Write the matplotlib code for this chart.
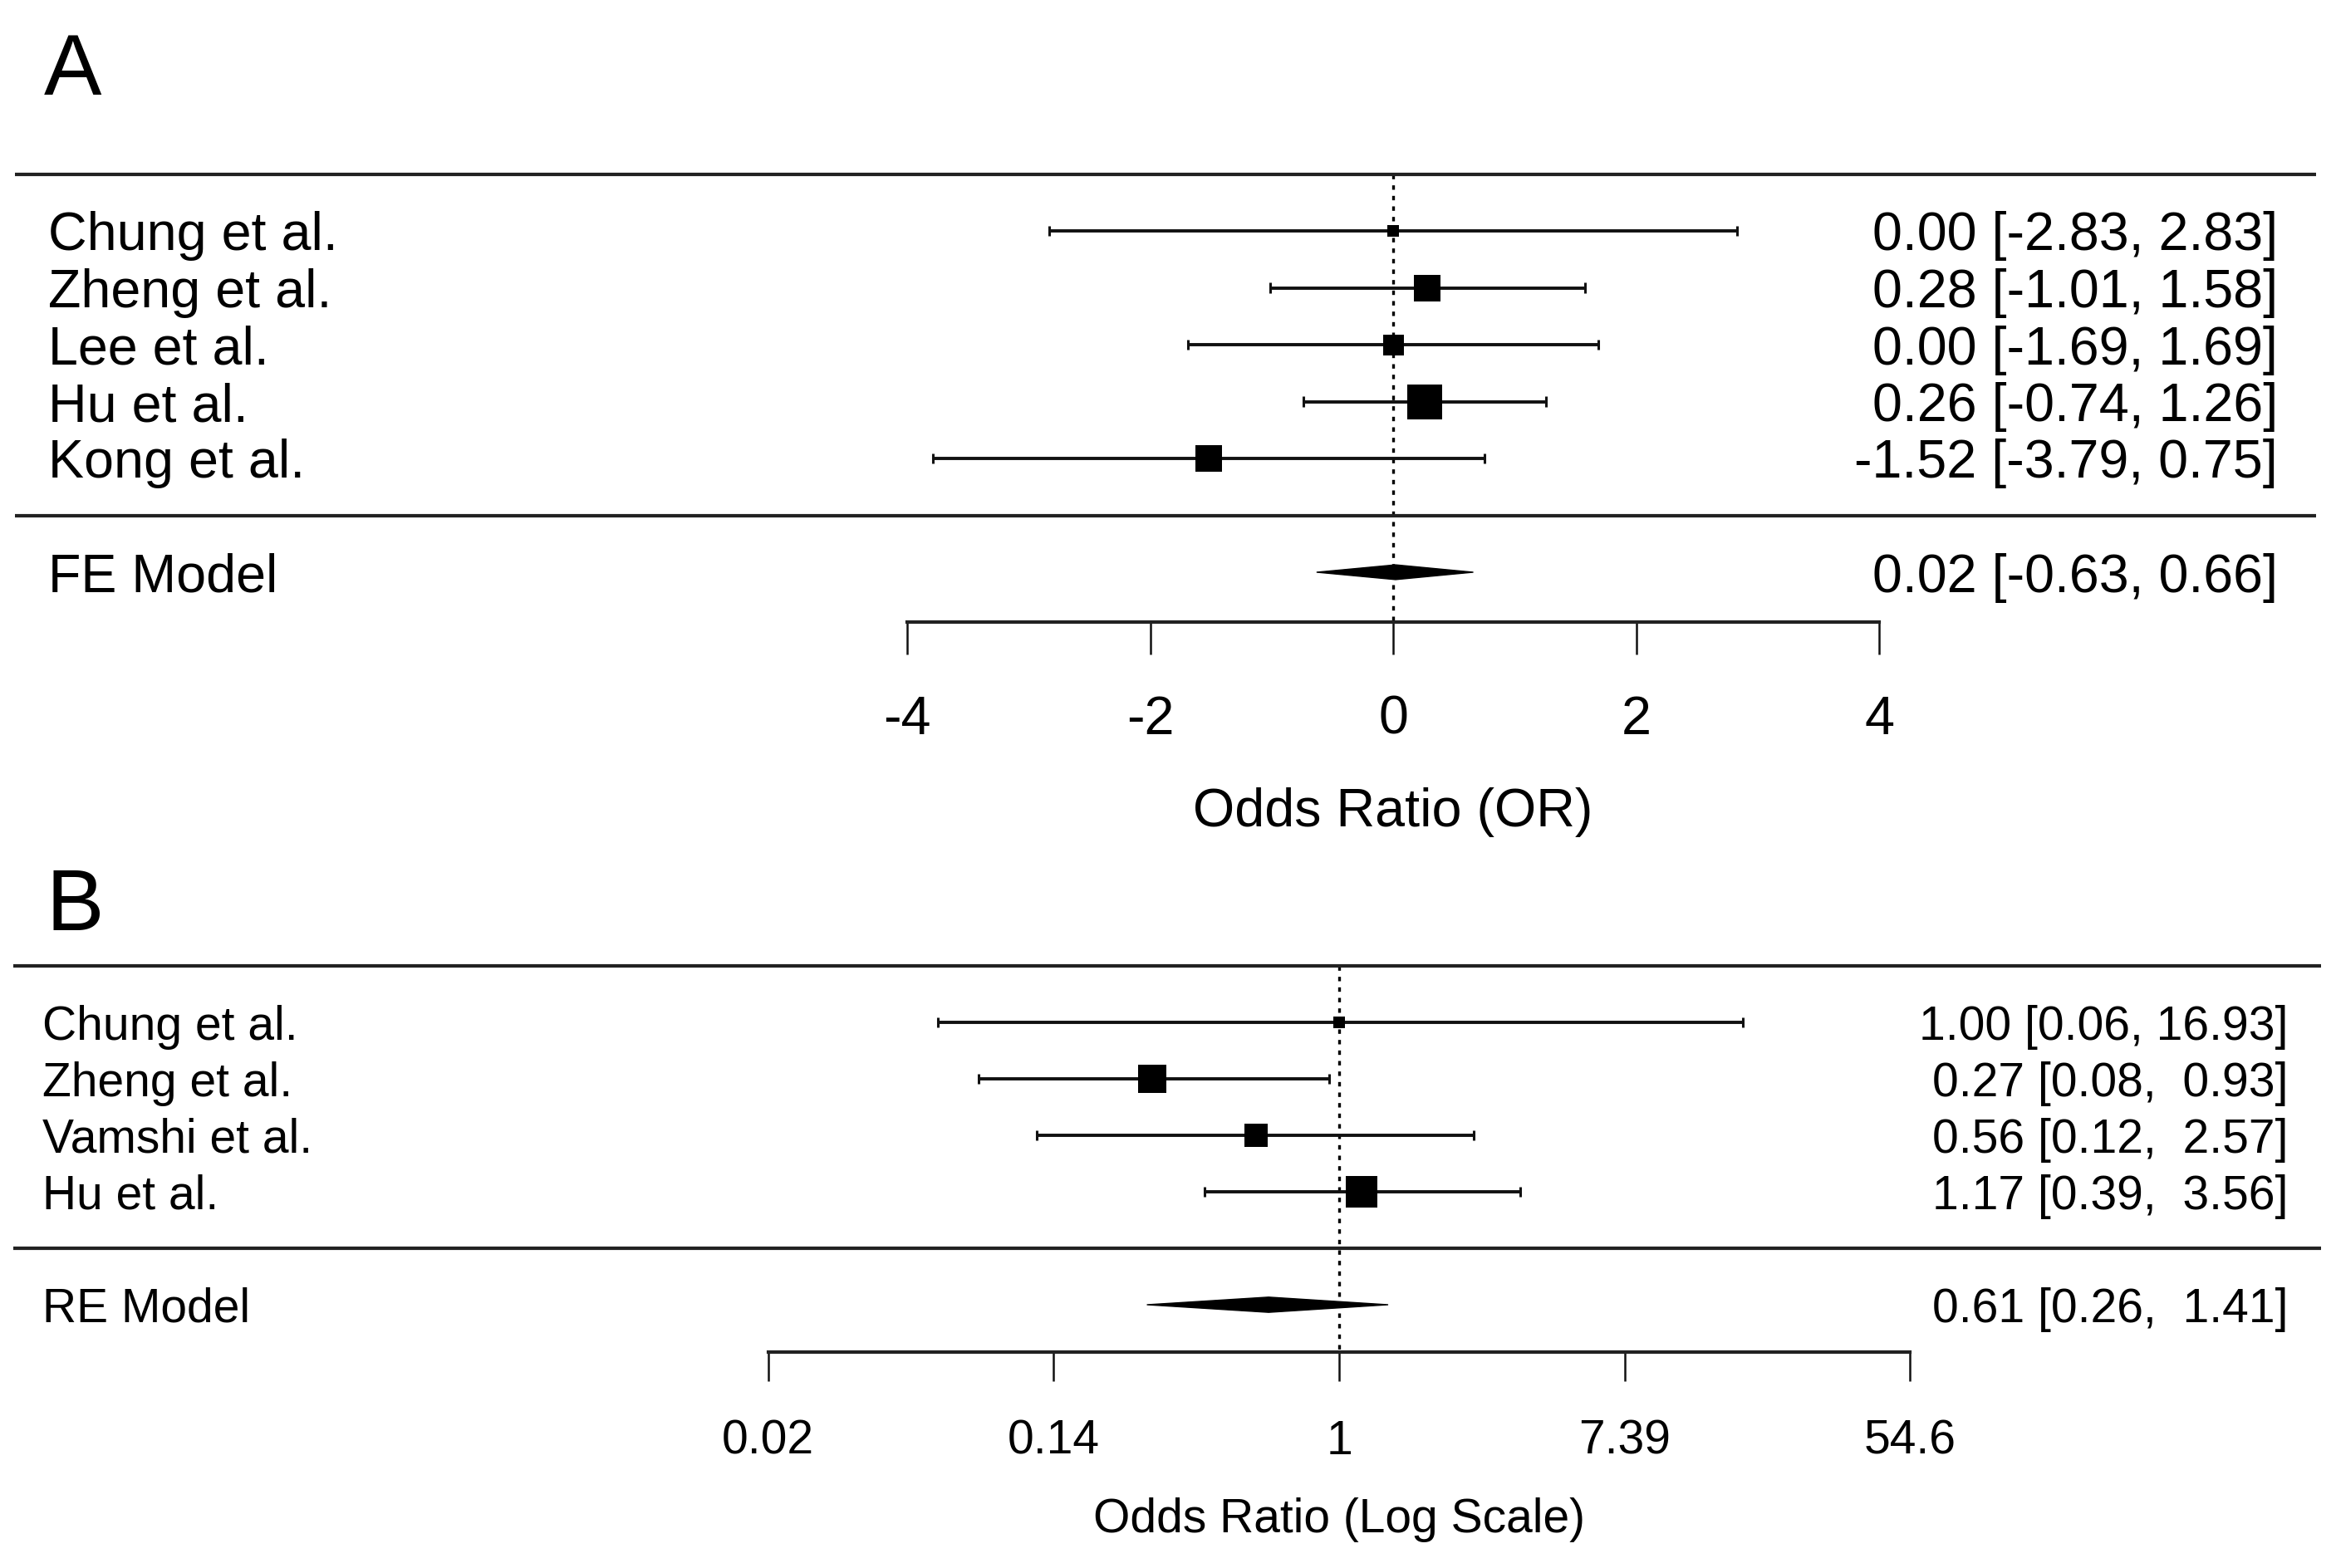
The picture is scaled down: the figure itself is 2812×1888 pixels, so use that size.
import numpy as np
import matplotlib
matplotlib.use("Agg")
import matplotlib.pyplot as plt
from matplotlib.transforms import blended_transform_factory

plt.rcParams['font.family'] = ['Liberation Sans', 'DejaVu Sans']
plt.rcParams['axes.unicode_minus'] = False

# ---------------- Panel A data (OR scale as plotted) ----------------
studies_A = ["Chung et al.", "Zheng et al.", "Lee et al.", "Hu et al.", "Kong et al."]
est_A = [0.00, 0.28, 0.00, 0.26, -1.52]
lo_A = [-2.83, -1.01, -1.69, -0.74, -3.79]
hi_A = [2.83, 1.58, 1.69, 1.26, 0.75]
size_A = [10, 23, 18, 30, 22.5]          # marker sizes (study weights)
model_A = "FE Model"
model_est_A, model_lo_A, model_hi_A = 0.02, -0.63, 0.66
ticks_A = [-4, -2, 0, 2, 4]
ticklabels_A = ["-4", "-2", "0", "2", "4"]
xlabel_A = "Odds Ratio (OR)"

# ---------------- Panel B data (odds ratios) ----------------
studies_B = ["Chung et al.", "Zheng et al.", "Vamshi et al.", "Hu et al."]
or_B = [1.00, 0.27, 0.56, 1.17]
lo_B = [0.06, 0.08, 0.12, 0.39]
hi_B = [16.93, 0.93, 2.57, 3.56]
size_B = [10, 24.5, 20, 28]
model_B = "RE Model"
model_est_B, model_lo_B, model_hi_B = 0.61, 0.26, 1.41
ticks_B = [-4, -2, 0, 2, 4]               # log scale positions
ticklabels_B = ["0.02", "0.14", "1", "7.39", "54.6"]
xlabel_B = "Odds Ratio (Log Scale)"

W, H = 2812, 1888
fig = plt.figure(figsize=(W / 100, H / 100), dpi=100)


def forest(ax, names, est, lo, hi, sizes, mname, mest, mlo, mhi, ann,
           mann, ticks, tlabels, xlabel, fs, axis_y, text_x, ann_x,
           line_x0, line_x1, ticklen, tickpad, xlabel_y, dhalf):
    k = len(names)
    rows = np.arange(k, 0, -1)
    tr = blended_transform_factory(ax.transAxes, ax.transData)
    # horizontal rules
    for yy in (k + 1, 0):
        ax.plot([line_x0, line_x1], [yy, yy], transform=tr, color='#222222',
                lw=3.0, solid_capstyle='butt', clip_on=False)
    # reference line
    ax.plot([0, 0], [k + 1, axis_y], color='black', lw=2.4,
            linestyle=(0, (1.6, 2.2)), zorder=1)
    # CIs
    ax.hlines(rows, lo, hi, color='#111111', lw=2.8, zorder=2)
    cap = 0.09
    ax.vlines(lo, rows - cap, rows + cap, color='#111111', lw=2.2, zorder=2)
    ax.vlines(hi, rows - cap, rows + cap, color='#111111', lw=2.2, zorder=2)
    for r, e, s in zip(rows, est, sizes):
        ax.plot([e], [r], marker='s', ms=s, color='black', mec='black',
                mew=0, linestyle='none', zorder=3)
    # summary diamond
    ax.fill([mlo, mest, mhi, mest], [-1, -1 + dhalf, -1, -1 - dhalf],
            color='black', lw=1.0, zorder=3)
    # texts
    for r, n, a in zip(rows, names, ann):
        ax.text(text_x, r, n, transform=tr, fontsize=fs, ha='left',
                va='center_baseline')
        ax.text(ann_x, r, a, transform=tr, fontsize=fs, ha='right',
                va='center_baseline')
    ax.text(text_x, -1, mname, transform=tr, fontsize=fs, ha='left',
            va='center_baseline')
    ax.text(ann_x, -1, mann, transform=tr, fontsize=fs, ha='right',
            va='center_baseline')
    # axis
    for sp in ('top', 'right', 'left'):
        ax.spines[sp].set_visible(False)
    ax.spines['bottom'].set_position(('data', axis_y))
    ax.spines['bottom'].set_bounds(ticks[0], ticks[-1])
    ax.spines['bottom'].set_linewidth(3.0)
    ax.spines['bottom'].set_color('#222222')
    ax.set_xticks(ticks)
    ax.set_xticklabels(tlabels)
    ax.tick_params(axis='x', direction='out', length=ticklen, width=1.8,
                   pad=tickpad, labelsize=fs, color='#111111')
    ax.set_yticks([])
    ax.text(0, xlabel_y, xlabel, fontsize=fs, ha='center', va='center')
    ax.patch.set_visible(False)


# ---- Panel A ----
axA = fig.add_axes([0, 1 - 1030 / H, 1, 1030 / H])
ppuA = 146.25
x0A = 1677
axA.set_xlim(-x0A / ppuA, (W - x0A) / ppuA)
axA.set_ylim(5 - (1030 - 278) / 68.5, 5 + 278 / 68.5)
annA = [f"{e:.2f} [{l:.2f}, {h:.2f}]" for e, l, h in zip(est_A, lo_A, hi_A)]
mannA = f"{model_est_A:.2f} [{model_lo_A:.2f}, {model_hi_A:.2f}]"
forest(axA, studies_A, est_A, lo_A, hi_A, size_A, model_A, model_est_A,
       model_lo_A, model_hi_A, annA, mannA, ticks_A, ticklabels_A, xlabel_A,
       fs=46.5, axis_y=-1.88, text_x=58 / W, ann_x=2742 / W,
       line_x0=18 / W, line_x1=2788 / W, ticklen=28, tickpad=35,
       xlabel_y=5 - (978 - 278) / 68.5, dhalf=0.13)

# ---- Panel B ----
axB = fig.add_axes([0, 0, 1, 858 / H])
ppuB = 171.8
x0B = 1612
axB.set_xlim(-x0B / ppuB, (W - x0B) / ppuB)
axB.set_ylim(4 - (H - 1231) / 68.0, 4 + (1231 - 1030) / 68.0)
annB = [f"{o:4.2f} [{l:4.2f}, {h:5.2f}]" for o, l, h in zip(or_B, lo_B, hi_B)]
mannB = f"{model_est_B:4.2f} [{model_lo_B:4.2f}, {model_hi_B:5.2f}]"
forest(axB, studies_B, np.log(or_B), np.log(lo_B), np.log(hi_B), size_B,
       model_B, np.log(model_est_B), np.log(model_lo_B), np.log(model_hi_B),
       annB, mannB, ticks_B, ticklabels_B, xlabel_B,
       fs=41, axis_y=-1.84, text_x=51 / W, ann_x=2754 / W,
       line_x0=16 / W, line_x1=2794 / W, ticklen=25, tickpad=33,
       xlabel_y=4 - (1830 - 1231) / 68.0, dhalf=0.135)

# panel letters
fig.text(53 / W, 1 - 114 / H, "A", fontsize=75, ha='left', va='baseline')
fig.text(56 / W, 1 - 1120 / H, "B", fontsize=75, ha='left', va='baseline')

fig.savefig("out.png", dpi=100)
